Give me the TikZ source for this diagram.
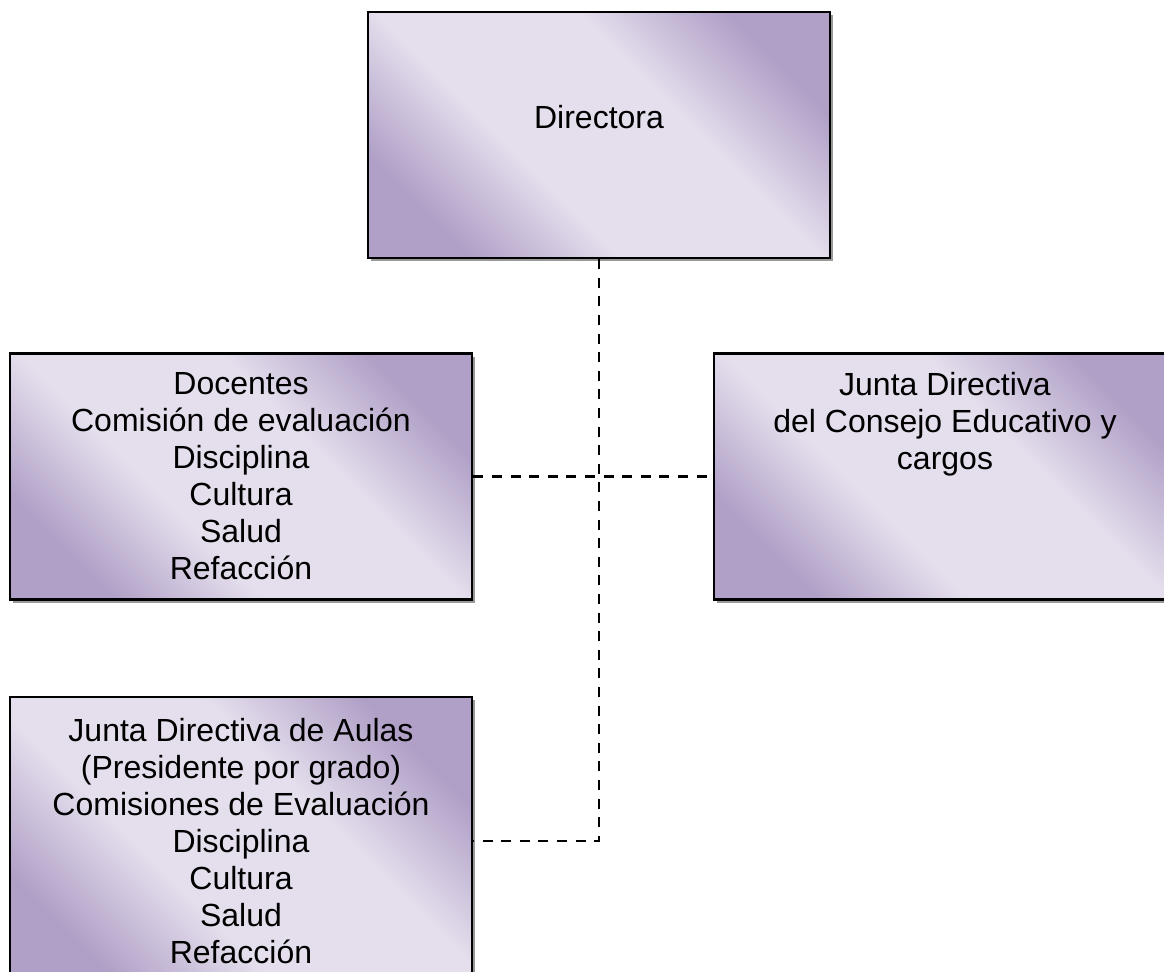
\documentclass[tikz,border=0pt]{standalone}
\usepackage{fontspec}
\setmainfont{Liberation Sans}
\usetikzlibrary{shadows}

\definecolor{boxdark}{RGB}{176,160,199}
\definecolor{boxlight}{RGB}{229,223,237}
\pgfdeclarehorizontalshading{lilac}{100bp}{color(0bp)=(boxdark); color(25bp)=(boxdark); color(40bp)=(boxlight); color(60bp)=(boxlight); color(75bp)=(boxdark); color(100bp)=(boxdark)}

\tikzset{
  orgbox/.style={draw, line width=1.3pt, shading=lilac, shading angle=45,
    drop shadow={shadow xshift=1.6pt, shadow yshift=-1.6pt, fill=black!40, opacity=1},
    minimum width=231pt, minimum height=123pt, align=center,
    font=\fontsize{16}{18.5}\selectfont},
  dashline/.style={line width=1.3pt, dash pattern=on 5pt off 4.3pt}
}

\begin{document}
\begin{tikzpicture}
\useasboundingbox (0,0) rectangle (582pt,-486pt);

\node[orgbox] (dir) at (299.5pt,-67.5pt) {Directora\\~};
\node[orgbox] (doc) [below of=dir,node distance=170.75pt,xshift=-179pt]
  {Docentes\\Comisión de evaluación\\Disciplina\\Cultura\\Salud\\Refacción};
\node[orgbox] (junta) [right of=doc,node distance=352pt]
  {Junta Directiva\\del Consejo Educativo y\\cargos\\~\\~\\~};
\node[orgbox,minimum height=144pt] (aulas) [below of=doc,node distance=182.25pt]
  {Junta Directiva de Aulas\\(Presidente por grado)\\Comisiones de Evaluación\\Disciplina\\Cultura\\Salud\\Refacción};

\draw[dashline] (dir.south) -- (dir.south |- aulas.east) -- (aulas.east);
\draw[dashline] (doc.east) -- (junta.west);
\end{tikzpicture}
\end{document}
